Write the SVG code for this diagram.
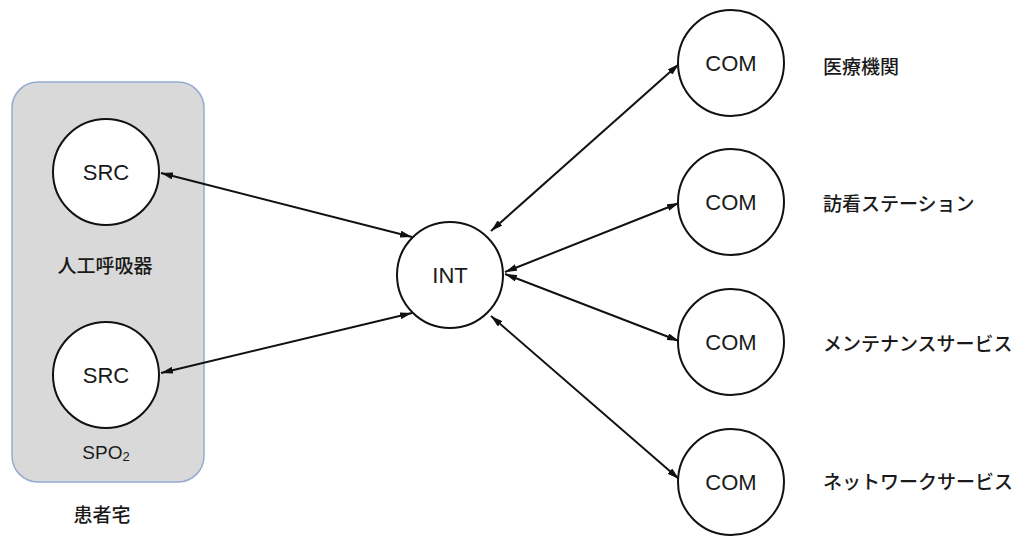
<svg xmlns="http://www.w3.org/2000/svg" width="1019" height="537" viewBox="0 0 1019 537">
<defs>
<style>
.node{fill:#fff;stroke:#111;stroke-width:2}
.nt{font-family:"Liberation Sans",Arial,sans-serif;font-size:22px;fill:#1a1a1a;text-anchor:middle;dominant-baseline:central}
.jp{font-family:"Noto Sans CJK JP","Noto Sans",sans-serif;font-size:19px;font-weight:500;fill:#1a1a1a}
.conn line{stroke:#111;stroke-width:2;marker-start:url(#ah);marker-end:url(#ah)}
</style>
<marker id="ah" viewBox="0 0 12 7" refX="12" refY="3.5" markerWidth="12" markerHeight="7" markerUnits="userSpaceOnUse" orient="auto-start-reverse">
<path d="M0,0 L12,3.5 L0,7 Z" fill="#111"/>
</marker>
</defs>
<rect x="0" y="0" width="1019" height="537" fill="#fff"/>
<g id="home">
<rect x="12" y="82" width="192" height="400" rx="26" ry="26" fill="#d9d9d9" stroke="#96aad0" stroke-width="1.5"/>
<text class="jp" x="102" y="513" text-anchor="middle" dominant-baseline="central">患者宅</text>
</g>
<g class="conn" id="connectors">
<line x1="161" y1="173" x2="412" y2="237"/>
<line x1="161" y1="373" x2="412" y2="313"/>
<line x1="491" y1="231" x2="679" y2="64"/>
<line x1="505" y1="272" x2="679" y2="203"/>
<line x1="505" y1="274" x2="679" y2="341"/>
<line x1="491" y1="316" x2="679" y2="479"/>
</g>
<g id="src1">
<circle class="node" cx="106" cy="172" r="53"/>
<text class="nt" x="106" y="172">SRC</text>
<text class="jp" x="105" y="264" text-anchor="middle" dominant-baseline="central">人工呼吸器</text>
</g>
<g id="src2">
<circle class="node" cx="106" cy="375" r="53"/>
<text class="nt" x="106" y="375">SRC</text>
<text x="106" y="452" font-family="Liberation Sans, Arial, sans-serif" font-size="19" fill="#1a1a1a" text-anchor="middle" dominant-baseline="central">SPO<tspan font-size="13" dy="4">2</tspan></text>
</g>
<g id="int">
<circle class="node" cx="450" cy="275" r="53"/>
<text class="nt" x="450" y="275">INT</text>
</g>
<g id="com1">
<circle class="node" cx="731" cy="63" r="53"/>
<text class="nt" x="731" y="63">COM</text>
<text class="jp" x="823" y="65" dominant-baseline="central">医療機関</text>
</g>
<g id="com2">
<circle class="node" cx="731" cy="202" r="53"/>
<text class="nt" x="731" y="202">COM</text>
<text class="jp" x="823" y="202" dominant-baseline="central">訪看ステーション</text>
</g>
<g id="com3">
<circle class="node" cx="731" cy="342" r="53"/>
<text class="nt" x="731" y="342">COM</text>
<text class="jp" x="823" y="342" dominant-baseline="central">メンテナンスサービス</text>
</g>
<g id="com4">
<circle class="node" cx="731" cy="482" r="53"/>
<text class="nt" x="731" y="482">COM</text>
<text class="jp" x="823" y="480" dominant-baseline="central">ネットワークサービス</text>
</g>
</svg>
